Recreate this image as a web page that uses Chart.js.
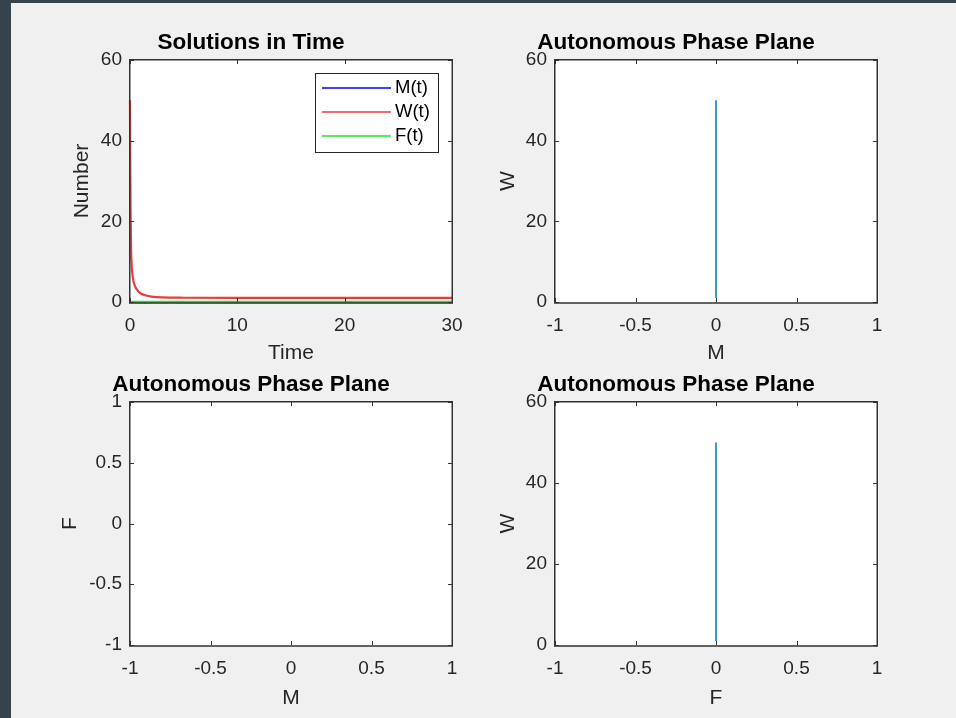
<!DOCTYPE html>
<html>
<head>
<meta charset="utf-8">
<script src="https://cdn.jsdelivr.net/npm/chart.js@4.4.1/dist/chart.umd.min.js"></script>
<style>
  html, body { margin: 0; padding: 0; width: 956px; height: 718px; overflow: hidden; background: #36424c; }
  #figura { position: absolute; left: 11px; top: 3px; right: 0; bottom: 0; background: #f0f0f0; }
  canvas { position: absolute; }
</style>
</head>
<body>
<div id="figura"></div>
<script>
// Datos
const tiempo = [0, 0.02, 0.05, 0.1, 0.15, 0.2, 0.3, 0.4, 0.5, 0.75, 1, 1.5, 2, 3, 5, 10, 20, 30];
const valoresM = [0, 0, 0, 0, 0, 0, 0, 0, 0, 0, 0, 0, 0, 0, 0, 0, 0, 0];
const valoresW = [50, 36, 23, 13, 9.5, 7.5, 5.5, 4.4, 3.7, 2.7, 2.1, 1.6, 1.35, 1.15, 1.05, 1.0, 1.0, 1.0];
const valoresF = [0, 0, 0, 0, 0, 0, 0, 0, 0, 0, 0, 0, 0, 0, 0, 0, 0, 0];

const etiquetasSeries = ['M(t)', 'W(t)', 'F(t)'];
const coloresSeries = ['#0000ff', '#ec3b3b', '#2ade2a'];
const colorFase = '#0072BD';

const FUENTE = '"Liberation Sans", Arial, sans-serif';
const COLOR_TEXTO = '#262626';

// Pares (x, y) para las gráficas de fase
function pares(xs, ys) {
    return xs.map((x, i) => ({ x: x, y: ys[i] }));
}

// Fondo blanco, caja con marcas hacia dentro (estilo MATLAB)
const ejesMatlab = {
    id: 'ejesMatlab',
    beforeDatasetsDraw(chart) {
        const { ctx, chartArea: a } = chart;
        ctx.save();
        ctx.fillStyle = '#ffffff';
        ctx.fillRect(a.left, a.top, a.right - a.left, a.bottom - a.top);
        ctx.restore();
    },
    afterDatasetsDraw(chart) {
        const { ctx, chartArea: a, scales } = chart;
        ctx.save();
        ctx.strokeStyle = '#333333';
        ctx.lineWidth = 1.5;
        // la línea inferior queda un poco por fuera para que se vea la serie en 0
        ctx.strokeRect(a.left - 0.25, a.top - 0.25, a.right - a.left + 0.5, a.bottom - a.top + 1.25);
        ctx.lineWidth = 1;
        const largo = 4;
        ctx.beginPath();
        scales.x.ticks.forEach(t => {
            const px = Math.round(scales.x.getPixelForValue(t.value)) + 0.5;
            ctx.moveTo(px, a.bottom); ctx.lineTo(px, a.bottom - largo);
            ctx.moveTo(px, a.top); ctx.lineTo(px, a.top + largo);
        });
        scales.y.ticks.forEach(t => {
            const py = Math.round(scales.y.getPixelForValue(t.value)) + 0.5;
            ctx.moveTo(a.left, py); ctx.lineTo(a.left + largo, py);
            ctx.moveTo(a.right, py); ctx.lineTo(a.right - largo, py);
        });
        ctx.stroke();
        ctx.restore();
    }
};

// Leyenda dentro del área (esquina superior derecha)
const leyendaMatlab = {
    id: 'leyendaMatlab',
    afterDraw(chart) {
        const { ctx, chartArea: a } = chart;
        const ancho = 123, alto = 79;
        const x0 = a.right - 14 - ancho, y0 = a.top + 13;
        ctx.save();
        ctx.fillStyle = '#ffffff';
        ctx.fillRect(x0, y0, ancho, alto);
        ctx.strokeStyle = COLOR_TEXTO;
        ctx.lineWidth = 1;
        ctx.strokeRect(x0 + 0.5, y0 + 0.5, ancho, alto);
        ctx.font = '18.5px ' + FUENTE;
        ctx.textBaseline = 'middle';
        etiquetasSeries.forEach((txt, i) => {
            const y = y0 + 15 + i * 24;
            ctx.strokeStyle = coloresSeries[i];
            ctx.lineWidth = 1.5;
            ctx.beginPath();
            ctx.moveTo(x0 + 7, y); ctx.lineTo(x0 + 76, y);
            ctx.stroke();
            ctx.fillStyle = '#000000';
            ctx.fillText(txt, x0 + 80, y);
        });
        ctx.restore();
    }
};

function crearPanel({ izq, arriba, alto, titulo, ejeX, ejeY, datasets, padY, padX, extras = [] }) {
    const canvas = document.createElement('canvas');
    canvas.width = 80 + 322 + 30;
    canvas.height = 50 + alto + 66;
    canvas.style.left = (izq - 80) + 'px';
    canvas.style.top = (arriba - 50) + 'px';
    document.body.appendChild(canvas);

    const ticksComunes = {
        color: COLOR_TEXTO,
        font: { family: FUENTE, size: 19 },
        callback: v => String(v),
        maxRotation: 0,
        autoSkip: false
    };

    return new Chart(canvas, {
        type: 'line',
        data: { datasets: datasets },
        options: {
            responsive: false,
            animation: false,
            layout: { padding: { left: 0, right: 30, top: 0, bottom: 0 } },
            elements: { point: { radius: 0 } },
            plugins: {
                legend: { display: false },
                tooltip: { enabled: false },
                title: {
                    display: true,
                    text: titulo,
                    color: '#000000',
                    font: { family: FUENTE, size: 22.5, weight: 'bold', lineHeight: 1.2 },
                    padding: { top: 19, bottom: 4 }
                }
            },
            scales: {
                x: {
                    type: 'linear',
                    min: ejeX.min, max: ejeX.max,
                    grid: { display: false, drawTicks: false },
                    border: { display: false },
                    ticks: Object.assign({ stepSize: ejeX.paso, padding: 12 }, ticksComunes),
                    title: {
                        display: true, text: ejeX.texto, color: COLOR_TEXTO,
                        font: { family: FUENTE, size: 21, lineHeight: 1.2 },
                        padding: { top: 0, bottom: padX }
                    },
                    afterFit: s => { s.height = 66; }
                },
                y: {
                    type: 'linear',
                    min: ejeY.min, max: ejeY.max,
                    grid: { display: false, drawTicks: false },
                    border: { display: false },
                    ticks: Object.assign({ stepSize: ejeY.paso, padding: 8 }, ticksComunes),
                    title: {
                        display: true, text: ejeY.texto, color: COLOR_TEXTO,
                        font: { family: FUENTE, size: 21, lineHeight: 1.2 },
                        padding: { top: padY, bottom: 0 }
                    },
                    afterFit: s => { s.width = 80; }
                }
            }
        },
        plugins: [ejesMatlab].concat(extras)
    });
}

function serie(etiqueta, puntos, color, ancho, orden) {
    return {
        label: etiqueta,
        data: puntos,
        borderColor: color,
        borderWidth: ancho,
        fill: false,
        pointRadius: 0,
        cubicInterpolationMode: 'monotone',
        clip: 3,
        order: orden
    };
}

// Solutions in Time
crearPanel({
    izq: 130, arriba: 60, alto: 242,
    titulo: 'Solutions in Time',
    ejeX: { min: 0, max: 30, paso: 10, texto: 'Time' },
    ejeY: { min: 0, max: 60, paso: 20, texto: 'Number' },
    padY: 20, padX: 2,
    datasets: [
        serie(etiquetasSeries[0], pares(tiempo, valoresM), coloresSeries[0], 1.5, 2),
        serie(etiquetasSeries[1], pares(tiempo, valoresW), coloresSeries[1], 2.2, 1),
        serie(etiquetasSeries[2], pares(tiempo, valoresF), coloresSeries[2], 2.4, 0)
    ],
    extras: [leyendaMatlab]
});

// W contra M
crearPanel({
    izq: 555, arriba: 60, alto: 242,
    titulo: 'Autonomous Phase Plane',
    ejeX: { min: -1, max: 1, paso: 0.5, texto: 'M' },
    ejeY: { min: 0, max: 60, paso: 20, texto: 'W' },
    padY: 21, padX: 2,
    datasets: [serie('W vs M', pares(valoresM, valoresW), colorFase, 1.5, 0)]
});

// F contra M
crearPanel({
    izq: 130, arriba: 402, alto: 243,
    titulo: 'Autonomous Phase Plane',
    ejeX: { min: -1, max: 1, paso: 0.5, texto: 'M' },
    ejeY: { min: -1, max: 1, paso: 0.5, texto: 'F' },
    padY: 8, padX: 0,
    datasets: [serie('F vs M', pares(valoresM, valoresF), colorFase, 1.5, 0)]
});

// W contra F
crearPanel({
    izq: 555, arriba: 402, alto: 243,
    titulo: 'Autonomous Phase Plane',
    ejeX: { min: -1, max: 1, paso: 0.5, texto: 'F' },
    ejeY: { min: 0, max: 60, paso: 20, texto: 'W' },
    padY: 21, padX: 0,
    datasets: [serie('W vs F', pares(valoresF, valoresW), colorFase, 1.5, 0)]
});
</script>
</body>
</html>
